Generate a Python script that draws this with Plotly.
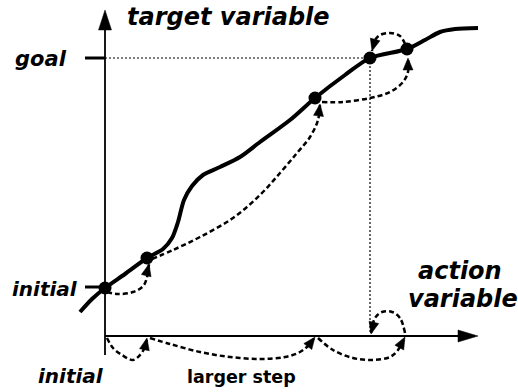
import numpy as np
import plotly.graph_objects as go

# ---- data (diagram units: action variable on x, target variable on y; 1 unit = 1 px) ----
curve_x = [-25, -13, 0, 20, 42, 58, 67, 73, 79, 87, 98, 115, 135, 155, 185, 210, 240, 265, 302, 320, 335, 350, 373]
curve_y = [24, 37, 48, 62, 78, 87, 98, 114, 136, 150, 161, 169, 179, 194, 216, 238, 261, 278, 287, 296, 304, 307, 308]

dots_x = [0, 42, 210, 265, 302]
dots_y = [48, 78, 238, 278, 287]

# dashed step arcs near the curve (target side)
arc_a1 = ([2, 13, 28, 39, 44], [44, 42, 44, 51, 72])
arc_a2 = ([47, 68, 95, 128, 155, 175, 192, 205, 213, 215], [77, 86, 99, 118, 141, 163, 183, 199, 216, 232])
arc_a3 = ([217, 238, 265, 285, 298, 303, 303], [234, 234, 238, 244, 254, 264, 278])
arc_a4 = ([300, 295, 285, 275, 270, 267], [292, 300, 303, 301, 296, 285])

# dashed step arcs along the action axis
arc_b1 = ([2, 8, 17, 28, 35, 40, 42], [-2, -12, -19, -24, -19, -11, -2])
arc_b2 = ([45, 65, 95, 125, 155, 180, 195, 204, 210], [-2, -8, -16, -21, -23, -21, -16, -9, -1])
arc_b3 = ([213, 228, 248, 268, 285, 293, 300], [-2, -14, -22, -24, -21, -14, -1])
arc_b4 = ([300, 295, 287, 277, 270, 266], [3, 18, 24, 24, 18, 2])

goal_value = 278
initial_value = 49
goal_action = 265

axis_x_end = 373
axis_y_end = 326
axis_y_bottom = -19

labels = {
    "target": "target variable",
    "goal": "goal",
    "initial": "initial",
    "action1": "action",
    "action2": "variable",
    "step": "larger step",
}

BLACK = "black"
ITAL = "DejaVu Sans"


def head_poly(xs, ys, L=12.0, W=10.0):
    tx, ty = xs[-1], ys[-1]
    px, py = xs[-2], ys[-2]
    d = np.array([tx - px, ty - py], dtype=float)
    d /= np.linalg.norm(d)
    n = np.array([-d[1], d[0]])
    b = np.array([tx, ty]) - L * d
    p1 = b + W / 2 * n
    p2 = b - W / 2 * n
    return [tx, p1[0], p2[0], tx, None], [ty, p1[1], p2[1], ty, None]


fig = go.Figure()

# dotted guide lines
fig.add_trace(go.Scatter(x=[0, goal_action], y=[goal_value, goal_value], mode="lines",
                         line=dict(color=BLACK, width=1.2, dash="2px,2px")))
fig.add_trace(go.Scatter(x=[goal_action, goal_action], y=[goal_value, 4], mode="lines",
                         line=dict(color=BLACK, width=1.2, dash="2px,2px")))

# axes
fig.add_trace(go.Scatter(x=[0, 0], y=[axis_y_bottom, axis_y_end - 15], mode="lines",
                         line=dict(color=BLACK, width=1.8)))
fig.add_trace(go.Scatter(x=[0, axis_x_end - 15], y=[0, 0], mode="lines",
                         line=dict(color=BLACK, width=1.8)))
hx1, hy1 = head_poly([0, 0], [0, axis_y_end], L=20, W=13)
hx2, hy2 = head_poly([0, axis_x_end], [0, 0], L=20, W=12)
fig.add_trace(go.Scatter(x=hx1 + hx2, y=hy1 + hy2, mode="lines", fill="toself",
                         fillcolor=BLACK, line=dict(color=BLACK, width=0.5)))

# ticks
fig.add_trace(go.Scatter(x=[-20, 0, None, -20, 0], y=[goal_value, goal_value, None, initial_value, initial_value],
                         mode="lines", line=dict(color=BLACK, width=3)))

# main curve
fig.add_trace(go.Scatter(x=curve_x, y=curve_y, mode="lines",
                         line=dict(color=BLACK, width=4, shape="spline", smoothing=0.8)))

# dashed arcs with arrowheads
hxs, hys = [], []
for ax_, ay_ in [arc_a1, arc_a2, arc_a3, arc_a4, arc_b1, arc_b2, arc_b3, arc_b4]:
    fig.add_trace(go.Scatter(x=ax_, y=ay_, mode="lines",
                             line=dict(color=BLACK, width=2.5, dash="5px,3px", shape="spline", smoothing=1.0)))
    hx, hy = head_poly(ax_, ay_)
    hxs += hx
    hys += hy
fig.add_trace(go.Scatter(x=hxs, y=hys, mode="lines", fill="toself", fillcolor=BLACK,
                         line=dict(color=BLACK, width=0.5)))

# dots
fig.add_trace(go.Scatter(x=dots_x, y=dots_y, mode="markers",
                         marker=dict(color=BLACK, size=13, line=dict(width=0))))

ital = dict(family=ITAL, size=24, color=BLACK, weight="bold", style="italic")
ann = [
    dict(x=20, y=319, text=labels["target"], xanchor="left", font=ital),
    dict(x=355, y=65, text=labels["action1"], xanchor="center", font=ital),
    dict(x=358, y=37, text=labels["action2"], xanchor="center", font=ital),
    dict(x=-64, y=277, text=labels["goal"], xanchor="center", font=dict(ital, size=21)),
    dict(x=-60.5, y=47, text=labels["initial"], xanchor="center", font=dict(ital, size=20)),
    dict(x=-34, y=-40, text=labels["initial"], xanchor="center", font=dict(ital, size=20)),
    dict(x=136, y=-41, text=labels["step"], xanchor="center",
         font=dict(family=ITAL, size=17.5, color=BLACK, weight="bold")),
]
for a in ann:
    fig.add_annotation(showarrow=False, yanchor="middle", xref="x", yref="y", **a)

fig.update_layout(
    width=518, height=392, margin=dict(l=0, r=0, t=0, b=0),
    paper_bgcolor="white", plot_bgcolor="white", showlegend=False,
    xaxis=dict(range=[-105, 413], visible=False, fixedrange=True),
    yaxis=dict(range=[-56, 336], visible=False, fixedrange=True),
)
fig.write_html("out.html", config={"displayModeBar": False},
               post_script="document.body.style.margin='0';document.body.style.overflow='hidden';")
